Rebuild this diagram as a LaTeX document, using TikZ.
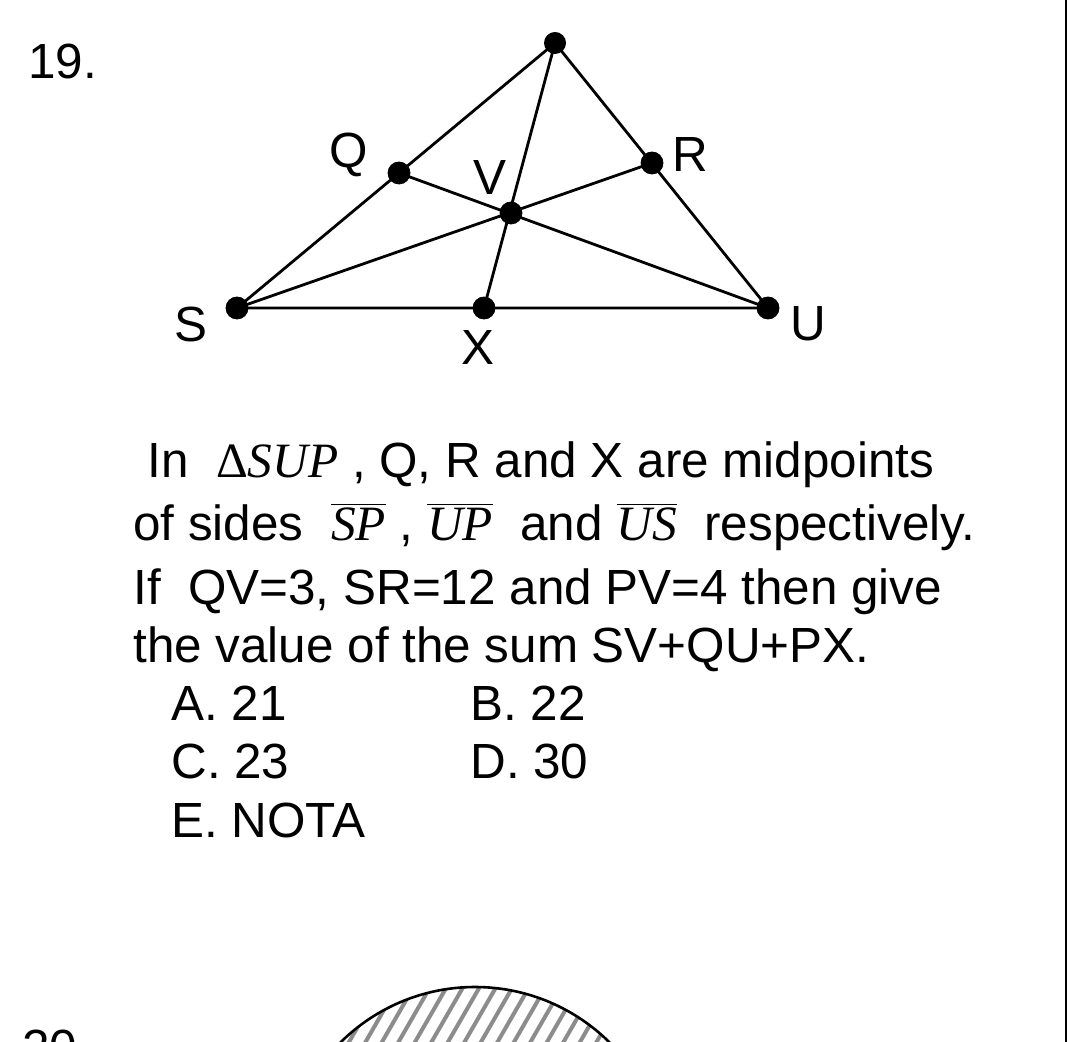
\documentclass[tikz,border=0pt]{standalone}
\usepackage{fontspec}
\setmainfont{Liberation Sans}
\newfontfamily\tmsfont{Liberation Serif}
\newcommand{\seg}[1]{$\overline{\hbox{\tmsfont\itshape #1}}$}
\begin{document}
\begin{tikzpicture}[line join = round, line cap = round, x=0.5pt, y=-0.5pt,
	txt/.style={anchor=base west, inner sep=0pt, font=\fontsize{24.7}{29}\selectfont},
	lbl/.style={inner sep=0pt, font=\fontsize{24.7}{29}\selectfont}]
	\useasboundingbox (0,0) rectangle (1070,1042);
	\path
	(555,43) coordinate(P)
	(399,173) coordinate(Q)
	(652,163) coordinate(R)
	(511,213) coordinate(V)
	(237,308) coordinate(S)
	(484,308) coordinate(X)
	(768,308) coordinate(U)
	(1066,0) coordinate(T)
	(1066,1042) coordinate(B)
	;
	\draw[line width=1.4pt] (S)--(U)--(P)--cycle (S)--(R) (Q)--(U) (P)--(X);
	\fill (P) circle[radius=5.5pt];
	\foreach \d/\dx/\dy in{Q/-50/-18,R/38/-8,V/-21/-35,S/-46/16,X/-6/40,U/40/16}\draw[fill=black](\d)circle[radius=5.5pt]+(\dx,\dy)node[lbl](l\d){\d};
	\draw[line width=1.2pt] (T)--(B);
	\node[txt] (num19) at (28,79) {19.};
	\node[txt] (line1) at (147,478) {In\ \ {\tmsfont Δ\textit{SUP}}\ , Q, R and X are midpoints};
	\node[txt] (line2) at (133,540) {of sides\ \ \seg{SP}\ , \seg{UP}\ \ and \seg{US}\ \ respectively.};
	\node[txt] (line3) at (133,604) {If\ \ QV=3, SR=12 and PV=4 then give};
	\node[txt] (line4) at (133,662) {the value of the sum SV+QU+PX.};
	\node[txt] (optA) at (171,720) {A. 21};
	\node[txt] (optB) at (470,720) {B. 22};
	\node[txt] (optC) at (171,778) {C. 23};
	\node[txt] (optD) at (470,778) {D. 30};
	\node[txt] (optE) at (171,837) {E. NOTA};
	\node[txt] (num20) at (22,1064) {20.};
	% hatched disc, cut by the page edge
	\begin{scope}
	\clip (475,1178) circle[radius=95.5pt];
	\foreach \k in {0,...,27}\draw[black!45, line width=2pt] (250+\k*16.5-173,1342)--(250+\k*16.5+173,742);
	\end{scope}
	\draw[line width=1.3pt] (475,1178) circle[radius=95.5pt];
\end{tikzpicture}
\end{document}
